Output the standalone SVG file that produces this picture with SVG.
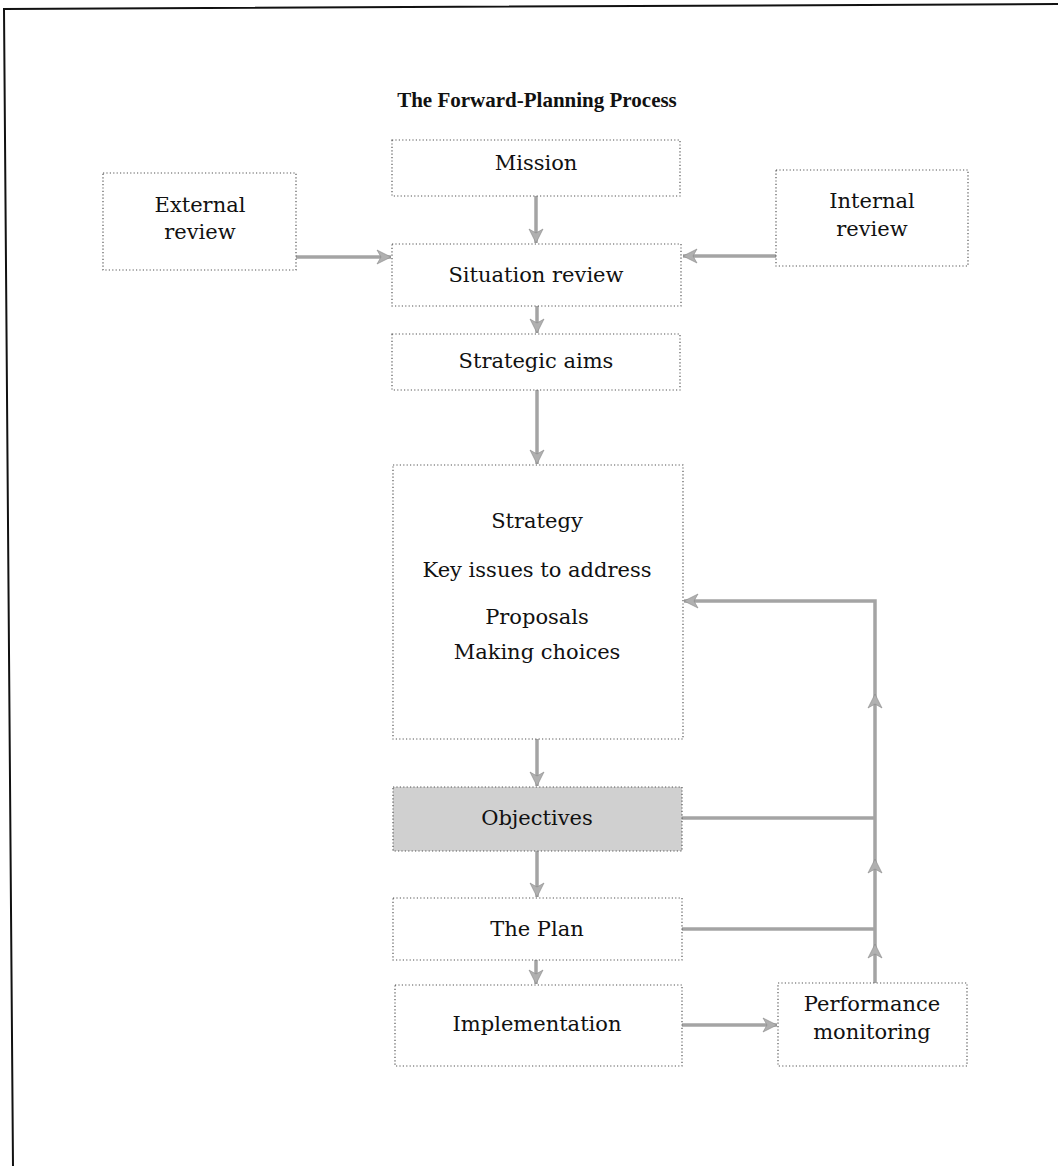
<svg xmlns="http://www.w3.org/2000/svg" width="1058" height="1166" viewBox="0 0 1058 1166">
<defs>
<style>
.box{fill:#fff;stroke:#555;stroke-width:1.2;stroke-dasharray:1.2 2.2}
.obj{fill:#d0d0d0;stroke:#555;stroke-width:1.2;stroke-dasharray:1.2 2.2}
.lbl{font-family:"DejaVu Serif","Liberation Serif",serif;font-size:21px;fill:#111;text-anchor:middle}
.title{font-family:"Liberation Serif","DejaVu Serif",serif;font-size:21px;font-weight:bold;fill:#111;text-anchor:middle}
.con{fill:none;stroke:#a4a4a4;stroke-width:3.5}
.head{fill:#b0b0b0;stroke:#888;stroke-width:0.6}
</style>
<marker id="ah" markerUnits="userSpaceOnUse" markerWidth="18" markerHeight="18" refX="15" refY="8" orient="auto" viewBox="0 0 18 16">
<path d="M1,1 L15,8 L1,15 L5,8 Z" class="head"/>
</marker>
</defs>
<rect width="1058" height="1166" fill="#fff"/>
<polyline points="13,1166 4,9 1058,4" fill="none" stroke="#111" stroke-width="2"/>
<text class="title" x="537" y="107">The Forward-Planning Process</text>

<g id="connectors">
<line class="con" x1="536" y1="196" x2="536" y2="243" marker-end="url(#ah)"/>
<line class="con" x1="296" y1="257" x2="391" y2="257" marker-end="url(#ah)"/>
<line class="con" x1="776" y1="256" x2="683" y2="256" marker-end="url(#ah)"/>
<line class="con" x1="537" y1="306" x2="537" y2="333" marker-end="url(#ah)"/>
<line class="con" x1="537" y1="390" x2="537" y2="464" marker-end="url(#ah)"/>
<line class="con" x1="537" y1="739" x2="537" y2="786" marker-end="url(#ah)"/>
<line class="con" x1="537" y1="851" x2="537" y2="897" marker-end="url(#ah)"/>
<line class="con" x1="536" y1="960" x2="536" y2="984" marker-end="url(#ah)"/>
<line class="con" x1="682" y1="1025" x2="777" y2="1025" marker-end="url(#ah)"/>
<polyline class="con" points="875,983 875,601 684,601" marker-end="url(#ah)"/>
<line class="con" x1="682" y1="818" x2="875" y2="818"/>
<line class="con" x1="682" y1="929" x2="875" y2="929"/>
<path class="head" d="M868,708 L875,694 L882,708 L875,704 Z"/>
<path class="head" d="M868,873 L875,859 L882,873 L875,869 Z"/>
<path class="head" d="M868,958 L875,944 L882,958 L875,954 Z"/>
</g>

<g id="mission">
<rect class="box" x="392" y="140" width="288" height="56"/>
<text class="lbl" x="536" y="170">Mission</text>
</g>
<g id="external-review">
<rect class="box" x="103" y="173" width="193" height="97"/>
<text class="lbl" x="200" y="212">External</text>
<text class="lbl" x="200" y="239">review</text>
</g>
<g id="internal-review">
<rect class="box" x="776" y="170" width="192" height="96"/>
<text class="lbl" x="872" y="208">Internal</text>
<text class="lbl" x="872" y="236">review</text>
</g>
<g id="situation-review">
<rect class="box" x="392" y="244" width="289" height="62"/>
<text class="lbl" x="536" y="282">Situation review</text>
</g>
<g id="strategic-aims">
<rect class="box" x="392" y="334" width="288" height="56"/>
<text class="lbl" x="536" y="368">Strategic aims</text>
</g>
<g id="strategy">
<rect class="box" x="393" y="465" width="290" height="274"/>
<text class="lbl" x="537" y="528">Strategy</text>
<text class="lbl" x="537" y="577">Key issues to address</text>
<text class="lbl" x="537" y="624">Proposals</text>
<text class="lbl" x="537" y="659">Making choices</text>
</g>
<g id="objectives">
<rect class="obj" x="393" y="787" width="289" height="64"/>
<text class="lbl" x="537" y="825">Objectives</text>
</g>
<g id="the-plan">
<rect class="box" x="393" y="898" width="289" height="62"/>
<text class="lbl" x="537" y="936">The Plan</text>
</g>
<g id="implementation">
<rect class="box" x="395" y="985" width="287" height="81"/>
<text class="lbl" x="537" y="1031">Implementation</text>
</g>
<g id="performance-monitoring">
<rect class="box" x="778" y="983" width="189" height="83"/>
<text class="lbl" x="872" y="1011">Performance</text>
<text class="lbl" x="872" y="1039">monitoring</text>
</g>
</svg>
